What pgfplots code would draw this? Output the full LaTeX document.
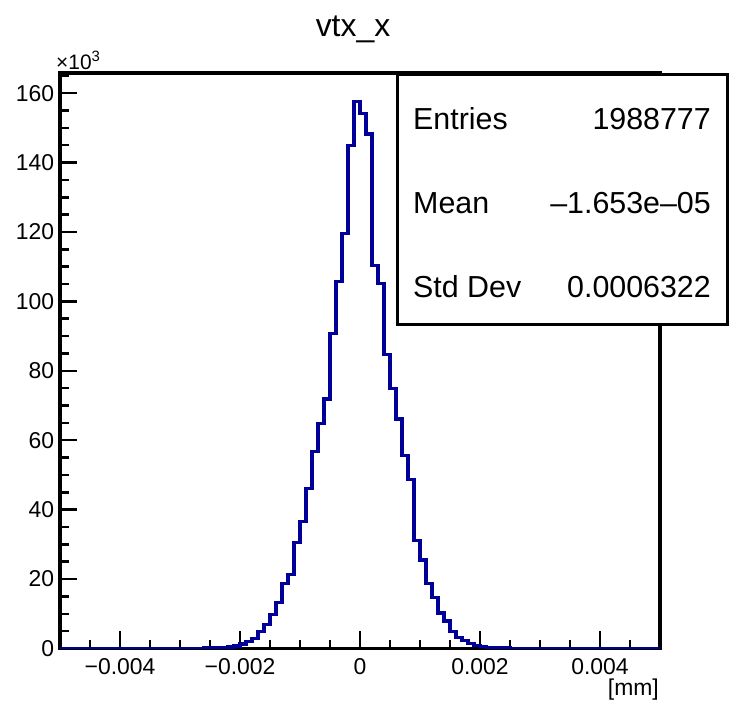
\documentclass[border=0pt]{standalone}
\usepackage{fontspec}
\setmainfont{Liberation Sans}
\usepackage{pgfplots}
\usepackage{pgfplotstable}
\pgfplotsset{compat=1.18}
\definecolor{histblue}{RGB}{0,0,153}

\pgfplotstableread{
x y
-0.0050 0.005
-0.0049 0.005
-0.0048 0.006
-0.0047 0.007
-0.0046 0.008
-0.0045 0.009
-0.0044 0.010
-0.0043 0.011
-0.0042 0.012
-0.0041 0.013
-0.0040 0.015
-0.0039 0.017
-0.0038 0.019
-0.0037 0.021
-0.0036 0.024
-0.0035 0.027
-0.0034 0.031
-0.0033 0.036
-0.0032 0.042
-0.0031 0.050
-0.0030 0.060
-0.0029 0.070
-0.0028 0.090
-0.0027 0.110
-0.0026 0.140
-0.0025 0.180
-0.0024 0.230
-0.0023 0.300
-0.0022 0.450
-0.0021 0.700
-0.0020 1.3
-0.0019 2.0
-0.0018 2.9
-0.0017 4.8
-0.0016 6.8
-0.0015 9.7
-0.0014 13.2
-0.0013 18.8
-0.0012 21.4
-0.0011 30.6
-0.0010 36.5
-0.0009 46.0
-0.0008 56.7
-0.0007 64.9
-0.0006 71.9
-0.0005 90.8
-0.0004 105.7
-0.0003 119.5
-0.0002 145.0
-0.0001 157.6
0.0000 154.2
0.0001 148.2
0.0002 110.3
0.0003 105.2
0.0004 84.8
0.0005 74.8
0.0006 66.1
0.0007 55.6
0.0008 48.6
0.0009 31.1
0.0010 25.5
0.0011 18.7
0.0012 14.7
0.0013 10.2
0.0014 7.9
0.0015 4.8
0.0016 3.2
0.0017 2.2
0.0018 1.5
0.0019 0.9
0.0020 0.5
0.0021 0.35
0.0022 0.25
0.0023 0.18
0.0024 0.13
0.0025 0.10
0.0026 0.08
0.0027 0.06
0.0028 0.05
0.0029 0.04
0.0030 0.035
0.0031 0.032
0.0032 0.029
0.0033 0.026
0.0034 0.024
0.0035 0.022
0.0036 0.020
0.0037 0.018
0.0038 0.016
0.0039 0.015
0.0040 0.014
0.0041 0.013
0.0042 0.012
0.0043 0.011
0.0044 0.010
0.0045 0.009
0.0046 0.008
0.0047 0.007
0.0048 0.006
0.0049 0.005
0.0050 0.005
}\histdata

\begin{document}
\begin{tikzpicture}[x=1bp,y=1bp]
\begin{axis}[
  at={(60bp,52.5bp)}, anchor=south west,
  scale only axis, width=600bp, height=575.5bp,
  xmin=-0.005, xmax=0.005, ymin=0, ymax=165.8,
  line width=3bp,
  axis line style={line width=3.2bp},
  tick align=inside, xtick pos=bottom, ytick pos=left,
  xtick={-0.004,-0.002,0,0.002,0.004},
  xticklabels={−0.004,−0.002,0,0.002,0.004},
  minor xtick={-0.0045,-0.0035,-0.003,-0.0025,-0.0015,-0.001,-0.0005,0.0005,0.001,0.0015,0.0025,0.003,0.0035,0.0045},
  ytick={0,20,...,160},
  minor ytick={5,10,15,25,30,35,45,50,55,65,70,75,85,90,95,105,110,115,125,130,135,145,150,155,165},
  major tick length=17bp, minor tick length=8.5bp,
  every tick/.style={black, line width=2.5bp},
  tick label style={font=\fontsize{23}{25}\selectfont},
  xticklabel style={yshift=-5bp},
  yticklabel style={xshift=-1bp},
  scaled ticks=false,
  /pgf/number format/assume math mode=true,
]
\addplot[const plot, draw=histblue, line width=3.2bp] table[x=x,y=y] {\histdata};
\end{axis}
% stats box
\draw[line width=3bp, fill=white] (397,376) rectangle (727,626);
\begin{scope}[every node/.style={font=\fontsize{30.5}{32}\selectfont, inner sep=0pt}]
\node[anchor=base west] at (413,571) {Entries};
\node[anchor=base east] at (711,571) {1988777};
\node[anchor=base west] at (413,487) {Mean};
\node[anchor=base east] at (711,487) {–1.653e–05};
\node[anchor=base west] at (413,403) {Std Dev};
\node[anchor=base east] at (711,403) {0.0006322};
\end{scope}
\node[anchor=base, inner sep=0pt, font=\fontsize{32}{34}\selectfont] at (353,664) {vtx\_x};
\node[anchor=base west, inner sep=0pt, font=\fontsize{21}{22}\selectfont] at (56,631) {×10\raisebox{8bp}{\fontsize{15}{16}\selectfont 3}};
\node[anchor=base east, inner sep=0pt, font=\fontsize{23}{24}\selectfont] at (659,5) {[mm]};
\pgfresetboundingbox
\useasboundingbox (0,0) rectangle (730,701);
\end{tikzpicture}
\end{document}
